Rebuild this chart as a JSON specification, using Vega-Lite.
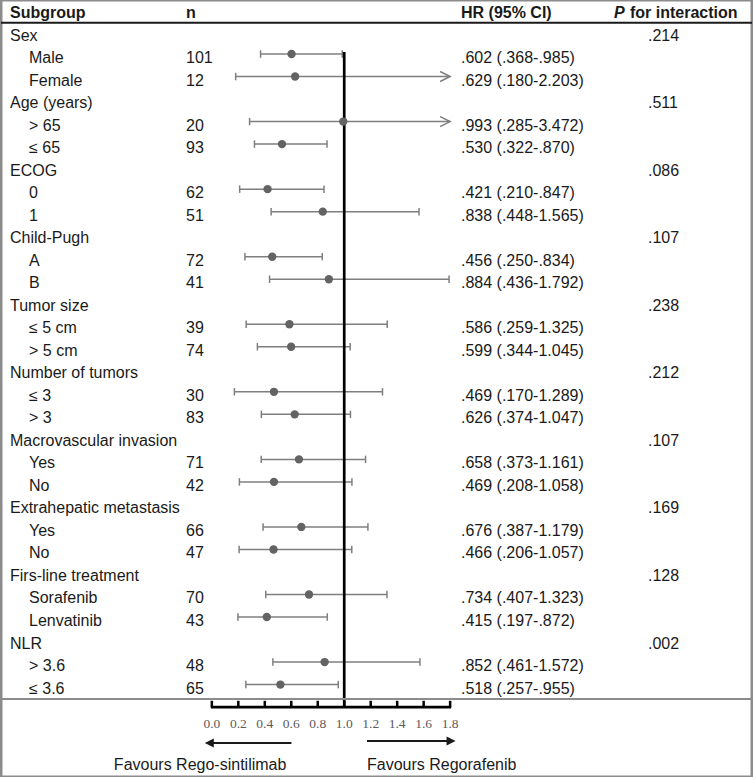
{
  "$schema": "https://vega.github.io/schema/vega-lite/v6.json",
  "width": 753,
  "height": 777,
  "padding": 0,
  "autosize": {"type": "fit", "contains": "padding"},
  "background": "white",
  "config": {"view": {"stroke": "#8c8c8c", "strokeWidth": 3}},
  "datasets": {
    "rows": [
      {"row": 1, "label": "Sex", "level": "cat", "p": ".214"},
      {"row": 2, "label": "Male", "level": "sub", "n": "101", "hrText": ".602 (.368-.985)", "hr": 0.602, "lo": 0.368, "hi": 0.985},
      {"row": 3, "label": "Female", "level": "sub", "n": "12", "hrText": ".629 (.180-2.203)", "hr": 0.629, "lo": 0.180, "hi": 2.203},
      {"row": 4, "label": "Age (years)", "level": "cat", "p": ".511"},
      {"row": 5, "label": "> 65", "level": "sub", "n": "20", "hrText": ".993 (.285-3.472)", "hr": 0.993, "lo": 0.285, "hi": 3.472},
      {"row": 6, "label": "≤ 65", "level": "sub", "n": "93", "hrText": ".530 (.322-.870)", "hr": 0.530, "lo": 0.322, "hi": 0.870},
      {"row": 7, "label": "ECOG", "level": "cat", "p": ".086"},
      {"row": 8, "label": "0", "level": "sub", "n": "62", "hrText": ".421 (.210-.847)", "hr": 0.421, "lo": 0.210, "hi": 0.847},
      {"row": 9, "label": "1", "level": "sub", "n": "51", "hrText": ".838 (.448-1.565)", "hr": 0.838, "lo": 0.448, "hi": 1.565},
      {"row": 10, "label": "Child-Pugh", "level": "cat", "p": ".107"},
      {"row": 11, "label": "A", "level": "sub", "n": "72", "hrText": ".456 (.250-.834)", "hr": 0.456, "lo": 0.250, "hi": 0.834},
      {"row": 12, "label": "B", "level": "sub", "n": "41", "hrText": ".884 (.436-1.792)", "hr": 0.884, "lo": 0.436, "hi": 1.792},
      {"row": 13, "label": "Tumor size", "level": "cat", "p": ".238"},
      {"row": 14, "label": "≤ 5 cm", "level": "sub", "n": "39", "hrText": ".586 (.259-1.325)", "hr": 0.586, "lo": 0.259, "hi": 1.325},
      {"row": 15, "label": "> 5 cm", "level": "sub", "n": "74", "hrText": ".599 (.344-1.045)", "hr": 0.599, "lo": 0.344, "hi": 1.045},
      {"row": 16, "label": "Number of tumors", "level": "cat", "p": ".212"},
      {"row": 17, "label": "≤ 3", "level": "sub", "n": "30", "hrText": ".469 (.170-1.289)", "hr": 0.469, "lo": 0.170, "hi": 1.289},
      {"row": 18, "label": "> 3", "level": "sub", "n": "83", "hrText": ".626 (.374-1.047)", "hr": 0.626, "lo": 0.374, "hi": 1.047},
      {"row": 19, "label": "Macrovascular invasion", "level": "cat", "p": ".107"},
      {"row": 20, "label": "Yes", "level": "sub", "n": "71", "hrText": ".658 (.373-1.161)", "hr": 0.658, "lo": 0.373, "hi": 1.161},
      {"row": 21, "label": "No", "level": "sub", "n": "42", "hrText": ".469 (.208-1.058)", "hr": 0.469, "lo": 0.208, "hi": 1.058},
      {"row": 22, "label": "Extrahepatic metastasis", "level": "cat", "p": ".169"},
      {"row": 23, "label": "Yes", "level": "sub", "n": "66", "hrText": ".676 (.387-1.179)", "hr": 0.676, "lo": 0.387, "hi": 1.179},
      {"row": 24, "label": "No", "level": "sub", "n": "47", "hrText": ".466 (.206-1.057)", "hr": 0.466, "lo": 0.206, "hi": 1.057},
      {"row": 25, "label": "Firs-line treatment", "level": "cat", "p": ".128"},
      {"row": 26, "label": "Sorafenib", "level": "sub", "n": "70", "hrText": ".734 (.407-1.323)", "hr": 0.734, "lo": 0.407, "hi": 1.323},
      {"row": 27, "label": "Lenvatinib", "level": "sub", "n": "43", "hrText": ".415 (.197-.872)", "hr": 0.415, "lo": 0.197, "hi": 0.872},
      {"row": 28, "label": "NLR", "level": "cat", "p": ".002"},
      {"row": 29, "label": "> 3.6", "level": "sub", "n": "48", "hrText": ".852 (.461-1.572)", "hr": 0.852, "lo": 0.461, "hi": 1.572},
      {"row": 30, "label": "≤ 3.6", "level": "sub", "n": "65", "hrText": ".518 (.257-.955)", "hr": 0.518, "lo": 0.257, "hi": 0.955}
    ],
    "ticks": [
      {"v": 0.0, "lab": "0.0"}, {"v": 0.2, "lab": "0.2"}, {"v": 0.4, "lab": "0.4"}, {"v": 0.6, "lab": "0.6"},
      {"v": 0.8, "lab": "0.8"}, {"v": 1.0, "lab": "1.0"}, {"v": 1.2, "lab": "1.2"}, {"v": 1.4, "lab": "1.4"},
      {"v": 1.6, "lab": "1.6"}, {"v": 1.8, "lab": "1.8"}
    ],
    "one": [{}]
  },
  "encoding": {
    "x": {"type": "quantitative", "scale": {"domain": [-1.5928, 4.0804], "nice": false, "zero": false}, "axis": null},
    "y": {"type": "quantitative", "scale": {"domain": [-0.3988, 34.104], "reverse": true, "nice": false, "zero": false}, "axis": null}
  },
  "layer": [
    {
      "data": {"name": "rows"},
      "transform": [{"filter": "isValid(datum.hi) && datum.hi <= 1.8"}],
      "mark": {"type": "rule", "color": "#7f7f7f", "strokeWidth": 1.5},
      "encoding": {"x": {"field": "lo"}, "x2": {"field": "hi"}, "y": {"field": "row"}}
    },
    {
      "data": {"name": "rows"},
      "transform": [{"filter": "isValid(datum.hi) && datum.hi > 1.8"}],
      "mark": {"type": "rule", "color": "#7f7f7f", "strokeWidth": 1.5},
      "encoding": {"x": {"field": "lo"}, "x2": {"datum": 1.8}, "y": {"field": "row"}}
    },
    {
      "data": {"name": "rows"},
      "transform": [{"filter": "isValid(datum.lo)"}],
      "mark": {"type": "point", "shape": "M0,-1L0,1", "size": 56, "filled": false, "stroke": "#7f7f7f", "strokeWidth": 1.5, "opacity": 1},
      "encoding": {"x": {"field": "lo"}, "y": {"field": "row"}}
    },
    {
      "data": {"name": "rows"},
      "transform": [{"filter": "isValid(datum.hi) && datum.hi <= 1.8"}],
      "mark": {"type": "point", "shape": "M0,-1L0,1", "size": 56, "filled": false, "stroke": "#7f7f7f", "strokeWidth": 1.5, "opacity": 1},
      "encoding": {"x": {"field": "hi"}, "y": {"field": "row"}}
    },
    {
      "data": {"name": "rows"},
      "transform": [{"filter": "isValid(datum.hi) && datum.hi > 1.8"}],
      "mark": {"type": "point", "shape": "M-1,-0.5L0,0L-1,0.5", "size": 400, "filled": false, "stroke": "#7f7f7f", "strokeWidth": 1.5, "opacity": 1},
      "encoding": {"x": {"datum": 1.8}, "y": {"field": "row"}}
    },
    {
      "data": {"name": "one"},
      "mark": {"type": "rule", "color": "#000000", "strokeWidth": 2.7},
      "encoding": {"x": {"datum": 1.0}, "y": {"datum": 1.91}, "y2": {"datum": 31.0}}
    },
    {
      "data": {"name": "rows"},
      "transform": [{"filter": "isValid(datum.hr)"}],
      "mark": {"type": "point", "shape": "circle", "filled": true, "size": 70, "color": "#636363", "opacity": 1},
      "encoding": {"x": {"field": "hr"}, "y": {"field": "row"}}
    },
    {
      "data": {"name": "rows"},
      "transform": [{"filter": "datum.level == 'cat'"}],
      "mark": {"type": "text", "align": "left", "baseline": "alphabetic", "dy": 9, "font": "Liberation Sans", "fontSize": 16, "fill": "#1a1a1a"},
      "encoding": {"x": {"value": 9}, "y": {"field": "row"}, "text": {"field": "label"}}
    },
    {
      "data": {"name": "rows"},
      "transform": [{"filter": "datum.level == 'sub'"}],
      "mark": {"type": "text", "align": "left", "baseline": "alphabetic", "dy": 9, "font": "Liberation Sans", "fontSize": 16, "fill": "#1a1a1a"},
      "encoding": {"x": {"value": 28}, "y": {"field": "row"}, "text": {"field": "label"}}
    },
    {
      "data": {"name": "rows"},
      "transform": [{"filter": "datum.level == 'sub'"}],
      "mark": {"type": "text", "align": "left", "baseline": "alphabetic", "dy": 9, "font": "Liberation Sans", "fontSize": 16, "fill": "#1a1a1a"},
      "encoding": {"x": {"value": 185}, "y": {"field": "row"}, "text": {"field": "n"}}
    },
    {
      "data": {"name": "rows"},
      "transform": [{"filter": "datum.level == 'sub'"}],
      "mark": {"type": "text", "align": "left", "baseline": "alphabetic", "dy": 9, "font": "Liberation Sans", "fontSize": 16, "fill": "#1a1a1a"},
      "encoding": {"x": {"value": 460}, "y": {"field": "row"}, "text": {"field": "hrText"}}
    },
    {
      "data": {"name": "rows"},
      "transform": [{"filter": "datum.level == 'cat'"}],
      "mark": {"type": "text", "align": "left", "baseline": "alphabetic", "dy": 9, "font": "Liberation Sans", "fontSize": 16, "fill": "#1a1a1a"},
      "encoding": {"x": {"value": 647}, "y": {"field": "row"}, "text": {"field": "p"}}
    },
    {
      "data": {"values": [{"t": "Subgroup", "c": 9}, {"t": "n", "c": 185}, {"t": "HR (95% CI)", "c": 460}]},
      "mark": {"type": "text", "align": "left", "baseline": "alphabetic", "dy": 9, "font": "Liberation Sans", "fontSize": 16, "fontWeight": "bold", "fill": "#1a1a1a"},
      "encoding": {"x": {"field": "c", "type": "quantitative", "scale": null}, "y": {"datum": 0.0}, "text": {"field": "t"}}
    },
    {
      "data": {"name": "one"},
      "mark": {"type": "text", "align": "left", "baseline": "alphabetic", "dy": 9, "font": "Liberation Sans", "fontSize": 16, "fontWeight": "bold", "fontStyle": "italic", "fill": "#1a1a1a", "text": "P"},
      "encoding": {"x": {"value": 613}, "y": {"datum": 0.0}}
    },
    {
      "data": {"name": "one"},
      "mark": {"type": "text", "align": "left", "baseline": "alphabetic", "dy": 9, "font": "Liberation Sans", "fontSize": 16, "fontWeight": "bold", "fill": "#1a1a1a", "text": "for interaction"},
      "encoding": {"x": {"value": 629}, "y": {"datum": 0.0}}
    },
    {
      "data": {"name": "one"},
      "mark": {"type": "rule", "color": "#1a1a1a", "strokeWidth": 2},
      "encoding": {"x": {"datum": -1.5928}, "x2": {"datum": 4.0804}, "y": {"datum": 0.609}}
    },
    {
      "data": {"name": "one"},
      "mark": {"type": "rule", "color": "#8c8c8c", "strokeWidth": 2},
      "encoding": {"x": {"datum": -1.5928}, "x2": {"datum": 4.0804}, "y": {"datum": 30.64}}
    },
    {
      "data": {"name": "one"},
      "mark": {"type": "rule", "color": "#000000", "strokeWidth": 2.7},
      "encoding": {"x": {"datum": -0.008}, "x2": {"datum": 1.808}, "y": {"datum": 31.0}}
    },
    {
      "data": {"name": "ticks"},
      "mark": {"type": "rule", "color": "#000000", "strokeWidth": 2.5},
      "encoding": {"x": {"field": "v"}, "y": {"datum": 30.72}, "y2": {"datum": 31.0}}
    },
    {
      "data": {"name": "ticks"},
      "mark": {"type": "text", "align": "center", "baseline": "alphabetic", "font": "Liberation Serif", "fontSize": 13.5, "fill": "#5a5a5a"},
      "encoding": {"x": {"field": "v"}, "y": {"datum": 31.94}, "text": {"field": "lab"}}
    },
    {
      "data": {"name": "one"},
      "mark": {"type": "rule", "color": "#1a1a1a", "strokeWidth": 2},
      "encoding": {"x": {"datum": 0.0}, "x2": {"datum": 0.601}, "y": {"datum": 32.59}}
    },
    {
      "data": {"name": "one"},
      "mark": {"type": "point", "shape": "M0,0L1,-0.5L1,0.5Z", "size": 324, "filled": true, "color": "#1a1a1a", "opacity": 1},
      "encoding": {"x": {"datum": -0.053}, "y": {"datum": 32.59}}
    },
    {
      "data": {"name": "one"},
      "mark": {"type": "rule", "color": "#1a1a1a", "strokeWidth": 2},
      "encoding": {"x": {"datum": 1.172}, "x2": {"datum": 1.79}, "y": {"datum": 32.5}}
    },
    {
      "data": {"name": "one"},
      "mark": {"type": "point", "shape": "M0,0L-1,-0.5L-1,0.5Z", "size": 324, "filled": true, "color": "#1a1a1a", "opacity": 1},
      "encoding": {"x": {"datum": 1.841}, "y": {"datum": 32.5}}
    },
    {
      "data": {"name": "one"},
      "mark": {"type": "text", "align": "right", "baseline": "alphabetic", "font": "Liberation Sans", "fontSize": 16, "fill": "#1a1a1a", "text": "Favours Rego-sintilimab"},
      "encoding": {"x": {"datum": 0.563}, "y": {"datum": 33.79}}
    },
    {
      "data": {"name": "one"},
      "mark": {"type": "text", "align": "left", "baseline": "alphabetic", "font": "Liberation Sans", "fontSize": 16, "fill": "#1a1a1a", "text": "Favours Regorafenib"},
      "encoding": {"x": {"datum": 1.172}, "y": {"datum": 33.79}}
    }
  ]
}
